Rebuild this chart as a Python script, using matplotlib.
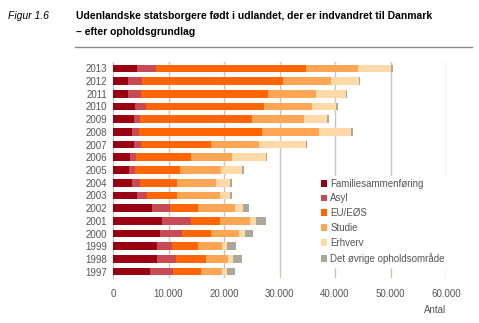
import matplotlib.pyplot as plt
import numpy as np

plt.rcParams['font.family'] = ['Liberation Sans', 'DejaVu Sans']

years = ['1997', '1998', '1999', '2000', '2001', '2002', '2003', '2004', '2005',
         '2006', '2007', '2008', '2009', '2010', '2011', '2012', '2013']

# segment sizes
familie = [6600, 8000, 8000, 8400, 8800, 7100, 4300, 3500, 2800,
           3000, 3700, 3400, 3700, 3900, 2700, 2700, 4300]
asyl = [4200, 3300, 2600, 4000, 5200, 3200, 1800, 1400, 1200,
        1200, 1300, 1300, 1200, 2000, 2300, 2500, 3500]
eu = [5100, 5400, 4800, 5200, 5200, 5000, 5500, 6600, 8100,
      9900, 12600, 22100, 20200, 21300, 23000, 25500, 27000]
studie = [3700, 4100, 4300, 5100, 5400, 6600, 7600, 7000, 7400,
          7300, 8700, 10400, 9300, 8700, 8500, 8600, 9400]
erhverv = [900, 900, 900, 1000, 1100, 1600, 1800, 2500, 3800,
           6100, 8400, 5700, 4200, 4300, 5400, 5000, 5900]
oevrige = [1400, 1600, 1600, 1500, 1900, 1000, 500, 500, 300,
           300, 300, 300, 300, 300, 200, 200, 400]

labels = ['Familiesammenføring', 'Asyl', 'EU/EØS', 'Studie', 'Erhverv',
          'Det øvrige opholdsområde']
colors = ['#990012', '#c64b55', '#ff6600', '#ffa655', '#ffd9a8', '#aaa99b']

fig = plt.figure(figsize=(4.79, 3.23), dpi=100)
ax = fig.add_axes([113 / 479, 1 - 278 / 323, (446 - 113) / 479, (278 - 62) / 323])

y = np.arange(len(years))
left = np.zeros(len(years))
for vals, lab, col in zip([familie, asyl, eu, studie, erhverv, oevrige], labels, colors):
    ax.barh(y, vals, left=left, height=0.6, color=col, label=lab, zorder=3)
    left += np.array(vals)

ax.set_xlim(0, 60000)
ax.set_ylim(-0.5, len(years) - 0.5)
ax.set_yticks(y)
ax.set_yticklabels(years)
ax.set_xticks(range(0, 60001, 10000))
ax.set_xticklabels(['0', '10.000', '20.000', '30.000', '40.000', '50.000', '60.000'])
ax.tick_params(length=0, labelsize=7, colors='#555555', pad=4)
ax.tick_params(axis='x', pad=8)
ax.grid(axis='x', color='#c9c6bb', linewidth=1, zorder=0)
for s in ['top', 'right', 'bottom']:
    ax.spines[s].set_visible(False)
ax.spines['left'].set_color('#c9c6bb')

ax.text(60000, -3.0, 'Antal', ha='right', va='center', fontsize=7, color='#555555')

leg = ax.legend(loc='lower left', bbox_to_anchor=(0.6, 0.03), fontsize=7, frameon=True,
                handlelength=0.7, handleheight=0.7, handletextpad=0.3, labelspacing=0.5,
                borderpad=0.3, edgecolor='white', framealpha=1, fancybox=False)
for t in leg.get_texts():
    t.set_color('#555555')
leg.set_zorder(5)

fig.text(8 / 479, 1 - 16 / 323, 'Figur 1.6', fontsize=7.5, style='italic', va='center')
fig.text(76 / 479, 1 - 16 / 323, 'Udenlandske statsborgere født i udlandet, der er indvandret til Danmark',
         fontsize=7.5, weight='bold', va='center')
fig.text(76 / 479, 1 - 32 / 323, '– efter opholdsgrundlag', fontsize=7.5, weight='bold', va='center')
fig.add_artist(plt.Line2D([75 / 479, 472 / 479], [1 - 47 / 323, 1 - 47 / 323],
                          color='#888888', linewidth=1))

fig.savefig('out.png', dpi=100)
